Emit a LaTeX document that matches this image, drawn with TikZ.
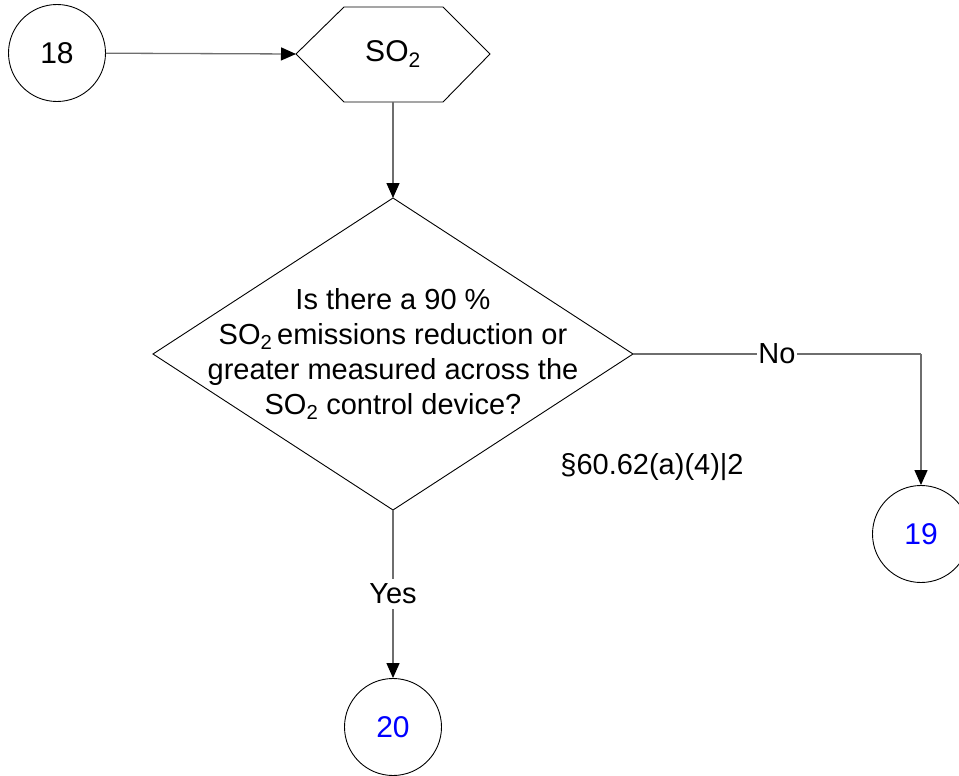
\documentclass[tikz,border=0pt]{standalone}
\usepackage{fontspec}
\setmainfont{Liberation Sans}
\usetikzlibrary{arrows.meta,shapes.geometric}
\tikzset{
  conn/.style={draw={rgb,255:red,110;green,110;blue,110}, line width=1.3pt, -{Triangle[black,length=15pt,width=13pt]}},
  plain/.style={draw={rgb,255:red,110;green,110;blue,110}, line width=1.3pt},
  ref/.style={circle, draw=black, line width=0.9pt, minimum size=97pt, inner sep=0pt, font=\fontsize{30}{35}\selectfont},
  lbl/.style={fill=white, inner xsep=1pt, inner ysep=5pt, font=\fontsize{29}{35}\selectfont},
  txt/.style={font=\fontsize{29}{35}\selectfont}
}
\begin{document}
\begin{tikzpicture}[x=1pt,y=-1pt]
\useasboundingbox (0,0) rectangle (959,776);
% circle 18
\node[ref] (c18) at (57,53) {18};
% hexagon
\draw[line width=0.9pt] (296,54) -- (344,7) -- (443,7) -- (490,54) -- (443,102) -- (344,102) -- cycle;
\coordinate (hexL) at (296,54);
\coordinate (hexB) at (393,102);
\node[txt, font=\fontsize{30}{35}\selectfont] (hex) at (393,54) {SO\textsubscript{2}};
% diamond
\draw[line width=0.9pt] (393,198) -- (633,354) -- (393,510) -- (153,354) -- cycle;
\coordinate (dT) at (393,198);
\coordinate (dR) at (633,354);
\coordinate (dB) at (393,510);
\node[txt, align=center] (q) at (393,354) {Is there a 90 \%\\SO\textsubscript{2}\,emissions reduction or\\greater measured across the\\SO\textsubscript{2} control device?};
\node[txt] (cite) at (652,467) {§60.62(a)(4)|2};
% circles 19 and 20
\node[ref, text=blue] (c19) at (921,534) {19};
\node[ref, text=blue] (c20) at (393,727) {20};
\coordinate (corner) at (921,354);
% connectors
\draw[conn] (c18) -- (hexL);
\draw[conn] (hexB) -- (dT);
\draw[plain] (dR) -- node[lbl, pos=0.5, inner ysep=1pt] (no) {No} (corner);
\draw[conn] (corner) -- (c19);
\draw[conn] (dB) -- node[lbl, pos=0.5] (yes) {Yes} (c20);
\end{tikzpicture}
\end{document}
